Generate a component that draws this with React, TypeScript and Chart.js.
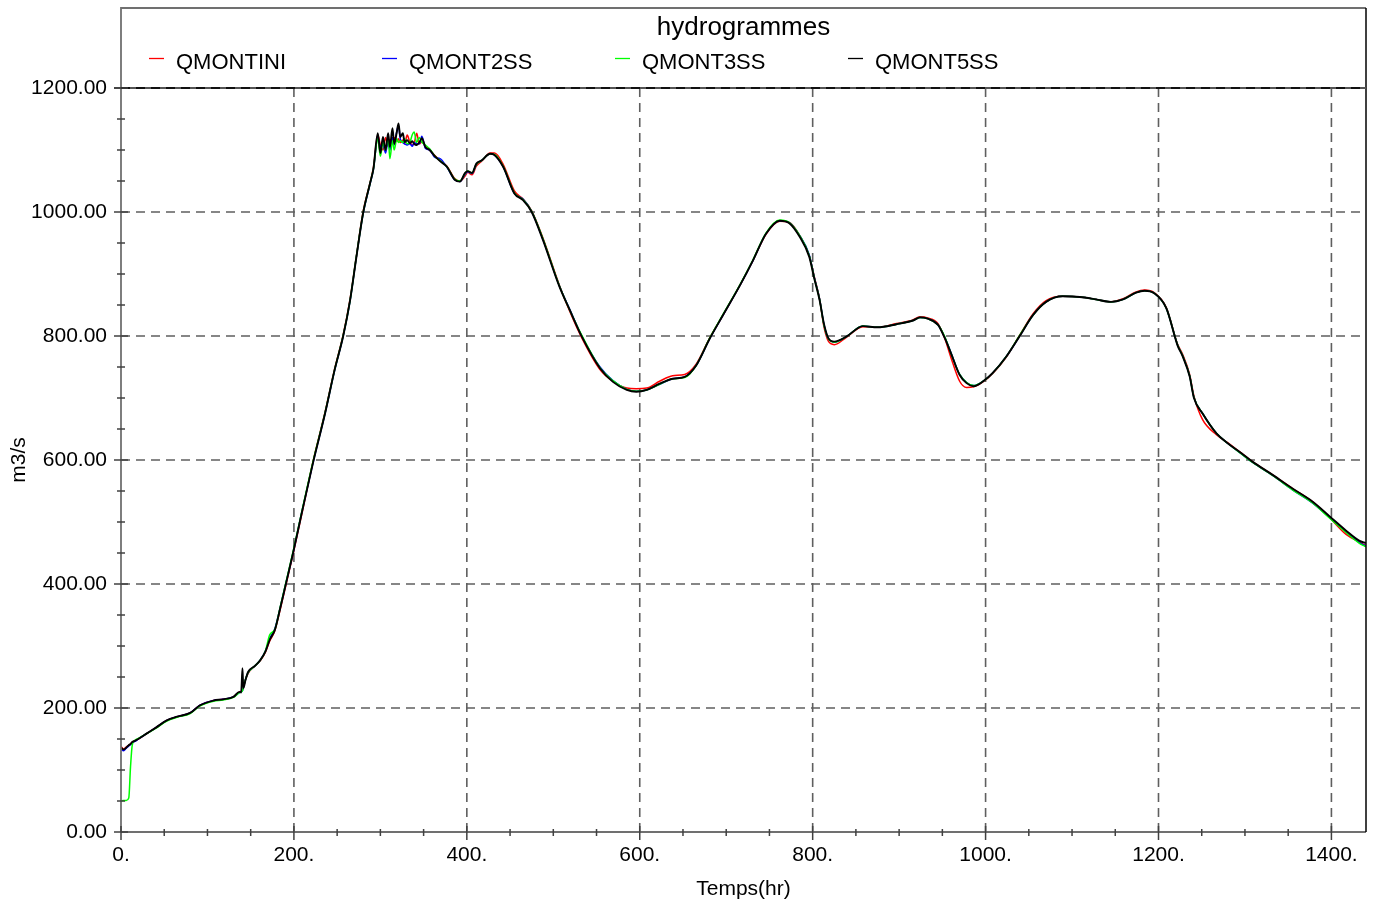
import React, { useEffect, useRef } from "react";
import { Chart, registerables } from "chart.js";

Chart.register(...registerables);

const FONT = '"Liberation Sans", Arial, Helvetica, sans-serif';

const chartTitle = "hydrogrammes";
const xAxisTitle = "Temps(hr)";
const yAxisTitle = "m3/s";
const seriesNames = ["QMONTINI", "QMONT2SS", "QMONT3SS", "QMONT5SS"];
const seriesColors = ["#ff0000", "#0000ff", "#00ff00", "#000000"];

const xTickValues = [0, 200, 400, 600, 800, 1000, 1200, 1400];
const yTickValues = [0, 200, 400, 600, 800, 1000, 1200];

const hours = [
  0, 3, 6, 9, 11, 13, 16, 20, 30, 40,
  53, 65, 80, 91, 107, 118, 130, 137, 139, 140.5,
  141.5, 144, 147, 155, 161, 167, 172, 178, 184, 190,
  199, 209, 222, 236, 247, 257, 265, 272, 280, 288,
  292, 297, 300, 303, 306, 309, 311, 314, 316, 319,
  321, 323, 326, 328, 331, 334, 337, 339, 342, 345,
  348, 352, 357, 363, 369, 377, 386, 392, 398, 401,
  406, 411, 417, 427, 432, 442, 455, 465, 475, 488,
  507, 519, 533, 554, 569, 585, 596, 608, 623, 638,
  652, 665, 681, 696, 716, 731, 746, 762, 773, 785,
  796, 802, 808, 813, 818, 825, 839, 858, 875, 897,
  916, 924, 933, 945, 953, 960, 970, 978, 986, 999,
  1008, 1024, 1039, 1055, 1070, 1089, 1109, 1128, 1145, 1159,
  1174, 1184, 1195, 1209, 1222, 1228, 1236, 1241, 1251, 1267,
  1280, 1294, 1309, 1332, 1355, 1378, 1398, 1417, 1432, 1440,
];

const qmontini = [
  138, 134, 137, 140, 142, 145, 147, 150, 159, 168,
  180, 186, 192, 204, 212, 214, 218, 226, 227, 229,
  234, 246, 256, 268, 276, 290, 308, 325, 358, 394,
  448, 512, 597, 677, 746, 802, 860, 926, 1000, 1047,
  1072, 1124, 1108, 1100, 1120, 1106, 1117, 1112, 1120, 1114,
  1118, 1112, 1116, 1110, 1124, 1113, 1108, 1110, 1127, 1110,
  1113, 1106, 1100, 1091, 1083, 1074, 1054, 1050, 1058, 1064,
  1060, 1074, 1082, 1095, 1095, 1077, 1034, 1021, 1002, 958,
  882, 840, 797, 746, 727, 716, 715, 716, 727, 736,
  738, 754, 797, 833, 882, 922, 964, 985, 983, 962,
  930, 895, 860, 815, 792, 786, 798, 815, 814, 820,
  826, 831, 829, 820, 795, 765, 727, 717, 718, 728,
  739, 766, 800, 836, 857, 864, 863, 859, 855, 860,
  871, 874, 870, 846, 787, 770, 738, 703, 665, 641,
  628, 613, 597, 576, 554, 533, 507, 480, 468, 462,
];

const qmont2ss = [
  134, 131, 135, 139, 141, 144, 146, 150, 159, 168,
  180, 186, 192, 204, 212, 214, 218, 225, 226, 228,
  233, 246, 257, 268, 277, 292, 312, 328, 361, 397,
  450, 515, 595, 675, 744, 800, 857, 925, 997, 1045,
  1069, 1120, 1105, 1110, 1095, 1115, 1100, 1120, 1108, 1130,
  1140, 1118, 1112, 1110, 1108, 1110, 1106, 1112, 1110, 1110,
  1122, 1103, 1100, 1088, 1086, 1072, 1052, 1049, 1061, 1065,
  1062, 1077, 1083, 1094, 1092, 1073, 1030, 1021, 1001, 956,
  881, 843, 800, 750, 728, 714, 711, 713, 722, 731,
  734, 752, 796, 833, 882, 922, 965, 986, 983, 962,
  931, 894, 860, 819, 796, 790, 799, 816, 814, 819,
  825, 830, 828, 818, 797, 773, 738, 725, 720, 729,
  740, 767, 799, 834, 855, 864, 863, 859, 855, 859,
  870, 873, 869, 845, 786, 768, 736, 701, 675, 643,
  627, 612, 596, 575, 552, 531, 507, 484, 467, 461,
];

const qmont3ss = [
  50, 51, 51, 55, 105, 140, 148, 151, 159, 167,
  179, 185, 191, 203, 211, 213, 217, 225, 226, 228,
  233, 246, 257, 268, 277, 292, 318, 327, 362, 398,
  452, 516, 597, 676, 745, 801, 858, 926, 998, 1046,
  1070, 1118, 1090, 1112, 1100, 1120, 1086, 1115, 1100, 1118,
  1112, 1115, 1112, 1118, 1110, 1112, 1125, 1129, 1112, 1120,
  1113, 1108, 1102, 1090, 1083, 1073, 1053, 1050, 1062, 1066,
  1063, 1077, 1083, 1094, 1093, 1074, 1031, 1020, 1001, 957,
  881, 842, 801, 749, 728, 714, 711, 713, 722, 731,
  733, 752, 797, 834, 883, 923, 966, 987, 983, 962,
  930, 893, 859, 818, 796, 790, 799, 816, 814, 819,
  825, 830, 828, 818, 798, 772, 738, 725, 720, 729,
  740, 767, 800, 834, 855, 864, 863, 859, 855, 859,
  870, 873, 869, 845, 786, 768, 736, 701, 675, 643,
  627, 612, 596, 575, 552, 531, 506, 483, 466, 460,
];

const qmont5ss = [
  136, 133, 136, 140, 142, 145, 147, 150, 159, 168,
  180, 186, 192, 204, 212, 214, 218, 226, 225, 264,
  232, 245, 258, 268, 277, 291, 310, 326, 360, 396,
  450, 514, 595, 675, 745, 800, 858, 925, 998, 1046,
  1070, 1127, 1095, 1121, 1100, 1127, 1105, 1135, 1110, 1129,
  1143, 1121, 1127, 1113, 1116, 1111, 1114, 1110, 1108, 1112,
  1119, 1105, 1100, 1090, 1082, 1073, 1052, 1049, 1063, 1066,
  1063, 1078, 1083, 1094, 1092, 1073, 1030, 1019, 1000, 955,
  880, 842, 799, 748, 726, 713, 710, 713, 723, 731,
  734, 752, 796, 833, 882, 922, 965, 986, 982, 960,
  928, 892, 858, 820, 797, 791, 799, 816, 814, 819,
  825, 830, 828, 818, 796, 772, 737, 724, 719, 729,
  740, 767, 799, 834, 855, 864, 863, 859, 855, 859,
  870, 873, 869, 845, 785, 767, 735, 700, 675, 643,
  627, 613, 597, 576, 554, 533, 509, 486, 470, 466,
];

const seriesValues = [qmontini, qmont2ss, qmont3ss, qmont5ss];

const decorPlugin = {
  id: "decor",
  beforeDatasetsDraw(chart: any) {
    const { ctx, chartArea: a, scales } = chart;
    const xs = scales.x;
    const ys = scales.y;
    ctx.save();
    ctx.strokeStyle = "#5f5f5f";
    ctx.lineWidth = 1.6;
    ctx.setLineDash([9, 6]);
    for (const v of xTickValues) {
      if (v === 0) continue;
      const px = xs.getPixelForValue(v);
      ctx.beginPath();
      ctx.moveTo(px, a.bottom);
      ctx.lineTo(px, a.top);
      ctx.stroke();
    }
    for (const v of yTickValues) {
      if (v === 0 || v === 1200) continue;
      const py = ys.getPixelForValue(v);
      ctx.beginPath();
      ctx.moveTo(a.left, py);
      ctx.lineTo(a.right, py);
      ctx.stroke();
    }
    ctx.restore();
  },
  afterDraw(chart: any) {
    const { ctx, chartArea: a, scales } = chart;
    const xs = scales.x;
    const ys = scales.y;
    const frameTop = 8;
    ctx.save();
    ctx.setLineDash([]);
    ctx.strokeStyle = "#707070";
    ctx.lineWidth = 1.8;
    ctx.beginPath();
    ctx.moveTo(a.left, a.bottom);
    ctx.lineTo(a.left, frameTop);
    ctx.lineTo(a.right, frameTop);
    ctx.stroke();
    ctx.beginPath();
    ctx.moveTo(a.left, a.bottom);
    ctx.lineTo(a.right, a.bottom);
    ctx.stroke();
    ctx.strokeStyle = "#000000";
    ctx.lineWidth = 1.5;
    ctx.beginPath();
    ctx.moveTo(a.right, frameTop);
    ctx.lineTo(a.right, a.bottom);
    ctx.stroke();
    const yTop = ys.getPixelForValue(1200);
    ctx.strokeStyle = "#555555";
    ctx.lineWidth = 2;
    ctx.beginPath();
    ctx.moveTo(a.left - 7, yTop);
    ctx.lineTo(a.right, yTop);
    ctx.stroke();
    ctx.strokeStyle = "#111111";
    ctx.setLineDash([9, 6]);
    ctx.beginPath();
    ctx.moveTo(a.left, yTop);
    ctx.lineTo(a.right, yTop);
    ctx.stroke();
    ctx.setLineDash([]);
    ctx.strokeStyle = "#404040";
    ctx.lineWidth = 1.5;
    for (let v = 0; v <= 1200; v += 50) {
      const py = ys.getPixelForValue(v);
      const major = v % 200 === 0;
      ctx.beginPath();
      ctx.moveTo(a.left - (major ? 7 : 4), py);
      ctx.lineTo(a.left + (major ? 7 : 4), py);
      ctx.stroke();
    }
    for (let v = 0; v <= 1440; v += 50) {
      const px = xs.getPixelForValue(v);
      const major = v % 200 === 0;
      ctx.beginPath();
      ctx.moveTo(px, a.bottom - (major ? 6 : 3));
      ctx.lineTo(px, a.bottom + (major ? 8 : 4));
      ctx.stroke();
    }
    ctx.fillStyle = "#000000";
    ctx.font = `26px ${FONT}`;
    ctx.textAlign = "center";
    ctx.textBaseline = "alphabetic";
    ctx.fillText(chartTitle, (a.left + a.right) / 2, 35);
    ctx.font = `22px ${FONT}`;
    ctx.textAlign = "left";
    seriesNames.forEach((name, i) => {
      const x0 = a.left + 28 + i * 233;
      ctx.strokeStyle = seriesColors[i];
      ctx.lineWidth = 1.3;
      ctx.beginPath();
      ctx.moveTo(x0, 58.5);
      ctx.lineTo(x0 + 15, 58.5);
      ctx.stroke();
      ctx.fillStyle = "#000000";
      ctx.fillText(name, x0 + 27, 69);
    });
    ctx.restore();
  },
};

export default function App() {
  const canvasRef = useRef<HTMLCanvasElement | null>(null);

  useEffect(() => {
    const canvas = canvasRef.current;
    if (!canvas) return;
    const drawOrder = [4, 3, 2, 1];
    const widths = [1.5, 1.5, 1.5, 1.9];
    const chart = new Chart(canvas, {
      type: "line",
      data: {
        datasets: seriesNames.map((name, i) => ({
          label: name,
          data: hours.map((h, j) => ({ x: h, y: seriesValues[i][j] })),
          borderColor: seriesColors[i],
          backgroundColor: seriesColors[i],
          borderWidth: widths[i],
          pointRadius: 0,
          fill: false,
          cubicInterpolationMode: "monotone" as const,
          order: drawOrder[i],
        })),
      },
      options: {
        responsive: false,
        animation: false,
        events: [],
        layout: { padding: { top: 88, right: 10, left: 0, bottom: 0 } },
        plugins: {
          legend: { display: false },
          title: { display: false },
          tooltip: { enabled: false },
        },
        scales: {
          x: {
            type: "linear",
            min: 0,
            max: 1440,
            afterBuildTicks: (s: any) => {
              s.ticks = xTickValues.map((v) => ({ value: v }));
            },
            afterFit: (s: any) => {
              s.height = 75;
            },
            grid: { display: false, drawTicks: false },
            border: { display: false },
            ticks: {
              maxRotation: 0,
              autoSkip: false,
              padding: 11,
              color: "#000000",
              font: { family: FONT, size: 21 },
              callback: (v: any) => `${v}.`,
            },
            title: {
              display: true,
              text: xAxisTitle,
              color: "#000000",
              font: { family: FONT, size: 21 },
              padding: { top: 0, bottom: 5 },
            },
          },
          y: {
            type: "linear",
            min: 0,
            max: 1200,
            afterBuildTicks: (s: any) => {
              s.ticks = yTickValues.map((v) => ({ value: v }));
            },
            afterFit: (s: any) => {
              s.width = 121;
            },
            grid: { display: false, drawTicks: false },
            border: { display: false },
            ticks: {
              padding: 14,
              color: "#000000",
              font: { family: FONT, size: 21 },
              callback: (v: any) => Number(v).toFixed(2),
            },
            title: {
              display: true,
              text: yAxisTitle,
              color: "#000000",
              font: { family: FONT, size: 21 },
              padding: { top: 7, bottom: 0 },
            },
          },
        },
      },
      plugins: [decorPlugin],
    });
    return () => chart.destroy();
  }, []);

  return (
    <div style={{ position: "fixed", left: 0, top: 0, width: 1376, height: 907, background: "#ffffff" }}>
      <canvas ref={canvasRef} width={1376} height={907} style={{ display: "block" }} />
    </div>
  );
}
